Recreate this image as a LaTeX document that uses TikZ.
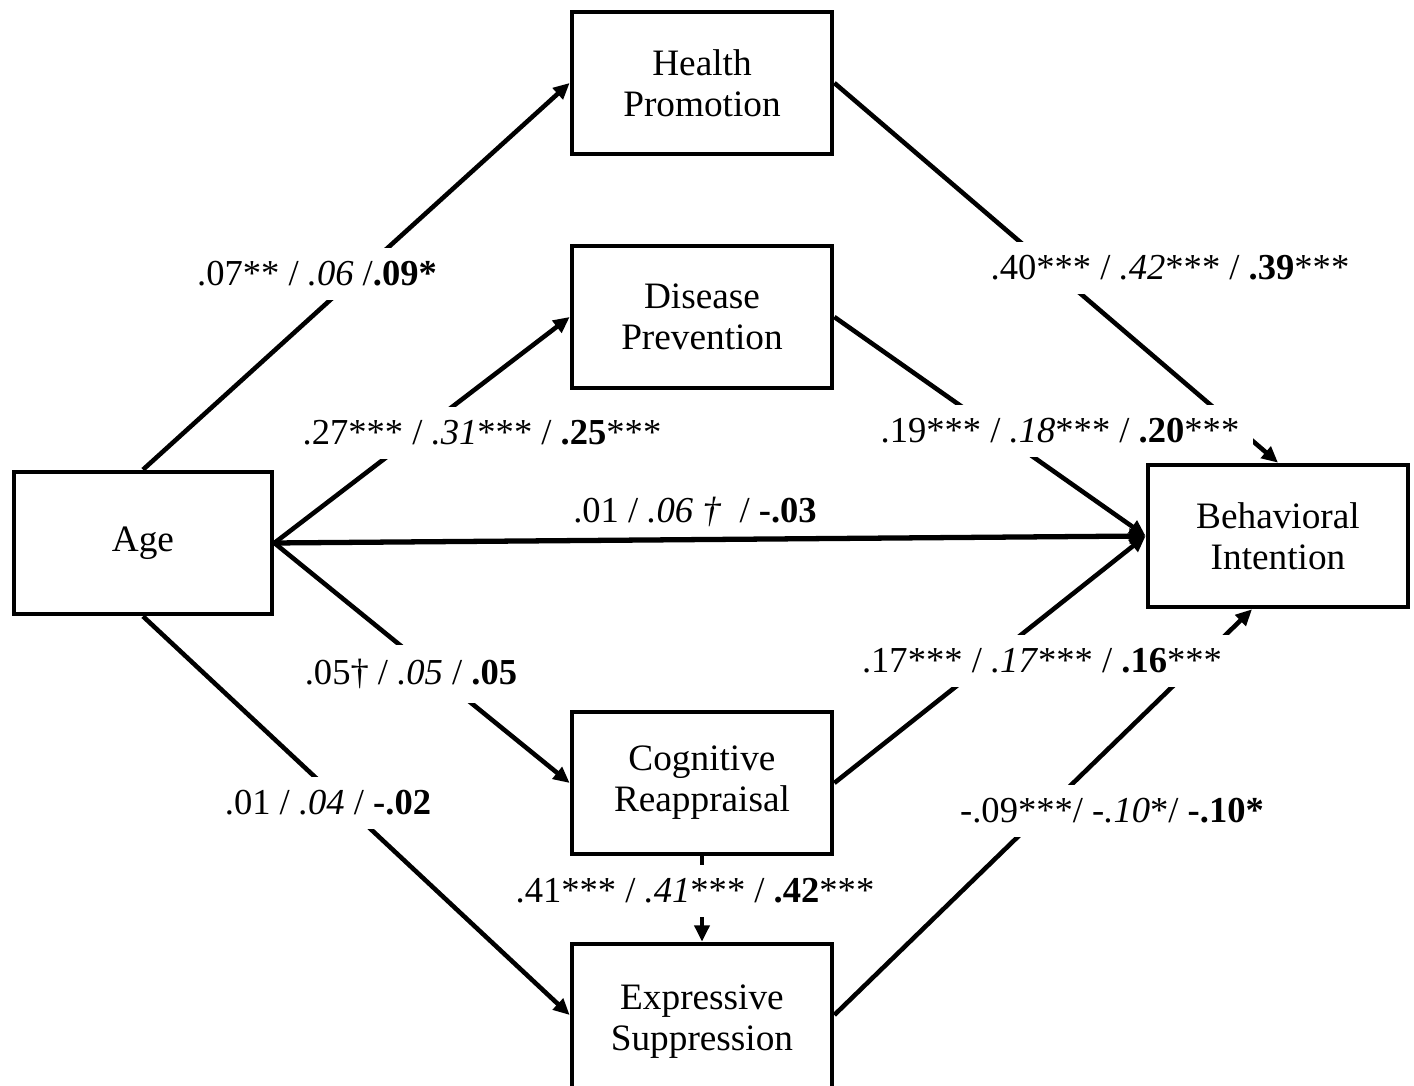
\documentclass[tikz,border=0pt]{standalone}
\usepackage{fontspec}
\setmainfont{Liberation Serif}
\usetikzlibrary{arrows.meta}

\begin{document}
\begin{tikzpicture}[x=0.01cm, y=-0.01cm, line width=1.3pt,
    box/.style={draw, minimum width=2.6cm, minimum height=1.42cm, align=center,
        font=\fontsize{10.6}{11.6}\selectfont},
    coef/.style={fill=white, inner xsep=4pt, inner ysep=4pt, font=\fontsize{10.4}{12}\selectfont},
    arr/.style={-{Triangle[length=4.6pt,width=4.2pt]}}]
    \useasboundingbox (0,0) rectangle (1414,1086);
    % boxes
    \node[box, minimum width=2.58cm] (age) at (143,543) {Age};
    \node[box] (hp) at (702,83) {Health\\Promotion};
    \node[box] (dp) at (702,317) {Disease\\Prevention};
    \node[box] (cr) at (702,783) {Cognitive\\Reappraisal};
    \node[box, minimum height=1.56cm] (es) at (702,1022) {Expressive\\Suppression};
    \node[box] (bi) at (1278,536) {Behavioral\\Intention};
    % paths
    \draw[arr] (age.north) -- (hp.west);
    \draw[arr] (age.east) -- (dp.west);
    \draw[arr, line width=1.5pt] (age.east) -- (bi.west);
    \draw[arr] (age.east) -- (cr.west);
    \draw[arr] (age.south) -- ([yshift=0.07cm]es.west);
    \draw[arr] (hp.east) -- (bi.north);
    \draw[arr] (dp.east) -- (bi.west);
    \draw[arr] (cr.east) -- (bi.west);
    \draw[arr] ([yshift=0.07cm]es.east) -- ([xshift=-0.26cm]bi.south);
    \draw[arr] (cr.south) -- (es.north);
    % coefficients
    \node[coef] (c1) at (317,274) {.07** / \textit{.06} /\textbf{.09*}};
    \node[coef] (c2) at (482,433) {.27*** / \textit{.31}*** / \textbf{.25}***};
    \node[font=\fontsize{10.4}{12}\selectfont] (c3) at (695,512) {.01 / \textit{.06 \textdagger}\ \ / \textbf{-.03}};
    \node[coef] (c4) at (411,674) {.05\textdagger{} / \textit{.05} / \textbf{.05}};
    \node[coef] (c5) at (328,803) {.01 / \textit{.04} / \textbf{-.02}};
    \node[coef] (c6) at (1170,268) {.40*** / \textit{.42}*** / \textbf{.39}***};
    \node[coef] (c7) at (1060,431) {.19*** / \textit{.18}*** / \textbf{.20}***};
    \node[coef] (c8) at (1042,661) {.17*** / \textit{.17}*** / \textbf{.16}***};
    \node[coef] (c9) at (1112,811) {-.09***/ \textit{-.10}*/ \textbf{-.10*}};
    \node[coef] (c10) at (695,891) {.41*** / \textit{.41}*** / \textbf{.42}***};
\end{tikzpicture}
\end{document}
